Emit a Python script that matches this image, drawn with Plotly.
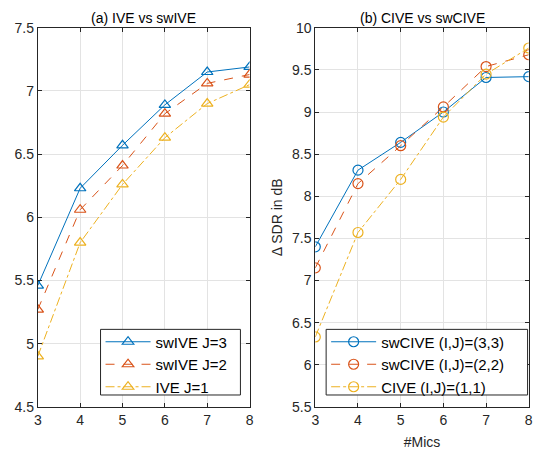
import plotly.graph_objects as go

mics = [3, 4, 5, 6, 7, 8]

# (a) IVE vs swIVE
ive_sw_j3 = [5.46, 6.23, 6.57, 6.89, 7.15, 7.19]
ive_sw_j2 = [5.27, 6.06, 6.41, 6.82, 7.06, 7.13]
ive_j1 = [4.90, 5.80, 6.26, 6.63, 6.90, 7.05]

# (b) CIVE vs swCIVE
cive_sw_33 = [7.40, 8.31, 8.64, 9.00, 9.41, 9.42]
cive_sw_22 = [7.15, 8.15, 8.60, 9.06, 9.54, 9.68]
cive_11 = [6.33, 7.57, 8.20, 8.94, 9.45, 9.76]

names_a = ["swIVE J=3", "swIVE J=2", "IVE J=1"]
names_b = ["swCIVE (I,J)=(3,3)", "swCIVE (I,J)=(2,2)", "CIVE (I,J)=(1,1)"]

colors = ["#0072BD", "#D95319", "#EDB120"]
dashes = ["solid", "dash", "dashdot"]

W, H = 537, 458
FONT = "Liberation Sans, Arial, sans-serif"
AX = "#262626"

fig = go.Figure()

for ys, nm, c, d in zip([ive_sw_j3, ive_sw_j2, ive_j1], names_a, colors, dashes):
    fig.add_trace(go.Scatter(
        x=mics, y=ys, name=nm, mode="lines+markers",
        line=dict(color=c, width=1, dash=d),
        marker=dict(symbol="triangle-up-open", size=10, color=c, line=dict(width=1.2, color=c)),
        xaxis="x", yaxis="y", legend="legend"))

for ys, nm, c, d in zip([cive_sw_33, cive_sw_22, cive_11], names_b, colors, dashes):
    fig.add_trace(go.Scatter(
        x=mics, y=ys, name=nm, mode="lines+markers",
        line=dict(color=c, width=1, dash=d),
        marker=dict(symbol="circle-open", size=10, color=c, line=dict(width=1.2, color=c)),
        xaxis="x2", yaxis="y2", legend="legend2"))

y_dom = [1 - 413.3 / H, 1 - 20.5 / H]

axis_common = dict(
    showline=True, linecolor=AX, linewidth=1, mirror="allticks",
    ticks="inside", ticklen=4, tickcolor=AX,
    showgrid=True, gridcolor="#e3e3e3", gridwidth=1,
    zeroline=False, tickfont=dict(family=FONT, size=14, color=AX),
)

# legend entries sit on a transparent legend; the framed box behind them is a shape
legend_common = dict(
    xanchor="left", yanchor="top", bgcolor="rgba(0,0,0,0)", borderwidth=0,
    font=dict(family=FONT, size=15, color="black"), tracegroupgap=0,
    itemwidth=45,
)


def legend_box(x0, x1, y0, y1):
    return dict(type="rect", xref="paper", yref="paper",
                x0=x0 / W, x1=x1 / W, y0=1 - y1 / H, y1=1 - y0 / H,
                fillcolor="white", line=dict(color=AX, width=1), layer="above")


fig.update_layout(
    width=W, height=H,
    margin=dict(l=0, r=0, t=0, b=0),
    paper_bgcolor="white", plot_bgcolor="white",
    font=dict(family=FONT, color=AX),
    xaxis=dict(domain=[34.3 / W, 249.3 / W], range=[3, 8], dtick=1, anchor="y", **axis_common),
    yaxis=dict(domain=y_dom, range=[4.5, 7.5], dtick=0.5, anchor="x", **axis_common),
    xaxis2=dict(domain=[316 / W, 532.7 / W], range=[3, 8], dtick=1, anchor="y2",
                title=dict(text="#Mics", font=dict(family=FONT, size=14, color=AX), standoff=10),
                **axis_common),
    yaxis2=dict(domain=y_dom, range=[5.5, 10], dtick=0.5, anchor="x2",
                title=dict(text="Δ SDR in dB", font=dict(family=FONT, size=14, color=AX), standoff=6),
                **axis_common),
    legend=dict(x=98 / W, y=1 - 329 / H, **legend_common),
    legend2=dict(x=327 / W, y=1 - 329 / H, **legend_common),
    shapes=[legend_box(98, 240, 333, 401), legend_box(327, 531.5, 333, 401)],
    annotations=[
        dict(text="(a) IVE vs swIVE", x=(34.3 + 249.3) / 2 / W, y=1 - 10 / H,
             xref="paper", yref="paper", showarrow=False, xanchor="center", yanchor="middle",
             font=dict(family=FONT, size=14, color="black")),
        dict(text="(b) CIVE vs swCIVE", x=(316 + 532.7) / 2 / W, y=1 - 10 / H,
             xref="paper", yref="paper", showarrow=False, xanchor="center", yanchor="middle",
             font=dict(family=FONT, size=14, color="black")),
    ],
)

fig.write_html("out.html")
